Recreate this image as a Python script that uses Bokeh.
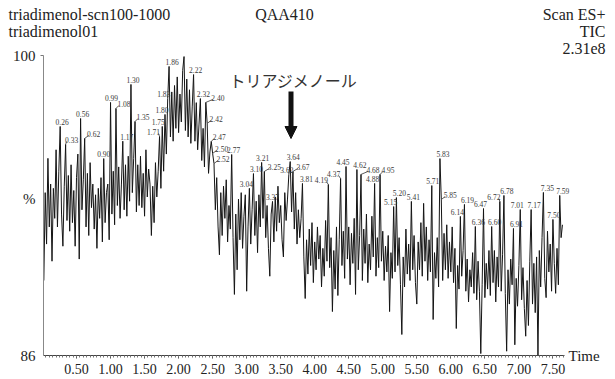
import numpy as np
from bokeh.plotting import figure
from bokeh.layouts import column
from bokeh.models import (Range1d, FixedTicker, PrintfTickFormatter, Label, Title,
                          LinearAxis, Arrow, NormalHead, ColumnDataSource)
from bokeh.core.properties import value
from bokeh.embed import file_html
from bokeh.resources import INLINE

# ---------------- data ----------------
scan_start = 0.02     # min
scan_step = 0.02      # min per scan
tic_pct = [
    89.5, 93.6, 91.2, 95.2, 92.0, 94.0, 90.4, 93.8, 92.4, 95.6,      # 0.02
    92.0, 94.6, 96.69, 92.6, 91.1, 93.9, 95.85, 92.3, 94.4, 91.8,    # 0.22
    94.9, 92.2, 93.7, 91.1, 94.3, 95.4, 90.5, 97.06, 92.8, 94.2,     # 0.42
    96.13, 92.0, 94.5, 91.6, 95.0, 92.9, 94.0, 91.9, 93.5, 91.0,     # 0.62
    93.8, 92.4, 94.3, 91.3, 95.19, 92.2, 93.6, 94.0, 91.4, 97.81,    # 0.82
    92.6, 94.6, 92.1, 97.53, 93.0, 94.8, 92.4, 94.0, 96.0, 92.8,     # 1.02
    94.9, 92.5, 95.3, 93.2, 98.65, 93.6, 95.2, 96.92, 92.7, 94.9,    # 1.22
    93.0, 95.3, 92.9, 94.5, 92.5, 95.6, 93.4, 94.7, 94.0, 91.6,      # 1.42
    93.9, 92.2, 95.0, 93.4, 94.6, 96.22, 93.8, 96.69, 94.6, 97.25,   # 1.62
    95.4, 97.99, 99.49, 96.2, 98.3, 96.0, 98.6, 96.6, 99.0, 96.4,    # 1.82
    98.2, 96.9, 99.3, 99.95, 96.5, 98.9, 96.2, 98.4, 95.9, 97.6,     # 2.02
    99.11, 96.0, 97.8, 95.6, 96.8, 97.99, 95.1, 96.6, 94.8, 97.81,   # 2.22
    96.83, 94.5, 95.5, 95.99, 95.43, 94.96, 92.8, 94.3, 92.0, 90.7,  # 2.42
    93.6, 91.6, 93.9, 92.4, 94.2, 91.3, 93.0, 91.9, 95.38, 91.5,     # 2.62
    88.85, 92.6, 90.0, 93.3, 91.4, 93.6, 91.0, 92.5, 93.5, 89.0,     # 2.82
    92.0, 93.8, 91.2, 92.8, 94.49, 91.6, 93.2, 90.8, 93.5, 92.0,     # 3.02
    95.01, 92.4, 94.59, 91.5, 93.0, 91.0, 89.7, 92.6, 93.19, 91.3,   # 3.22
    93.4, 91.8, 93.9, 92.2, 93.0, 91.4, 90.6, 93.6, 92.3, 93.3,      # 3.42
    94.45, 95.05, 92.7, 94.59, 91.9, 93.6, 91.2, 92.8, 91.5, 92.4,   # 3.62
    94.03, 90.6, 88.66, 91.4, 89.8, 91.9, 90.2, 92.2, 89.4, 91.3,    # 3.82
    90.0, 92.0, 90.5, 91.6, 89.2, 91.0, 89.7, 92.3, 90.4, 93.98,     # 4.02
    90.1, 91.5, 88.05, 90.9, 89.1, 92.0, 88.8, 91.4, 94.26, 90.2,    # 4.22
    91.8, 89.6, 94.82, 90.5, 92.0, 89.3, 91.7, 90.3, 92.4, 88.85,    # 4.42
    94.68, 90.0, 91.6, 94.45, 89.5, 91.9, 90.3, 92.6, 89.4, 91.2,    # 4.62
    90.0, 92.5, 90.6, 94.03, 89.7, 91.5, 90.1, 94.45, 90.4, 91.8,    # 4.82
    89.5, 91.1, 89.9, 91.6, 88.05, 90.8, 89.6, 92.95, 89.9, 93.37,   # 5.02
    90.2, 91.5, 89.3, 86.98, 90.6, 89.2, 91.9, 89.8, 91.2, 89.5,     # 5.22
    93.19, 90.0, 91.6, 89.4, 88.4, 91.3, 90.0, 92.2, 89.7, 93.1,     # 5.42
    90.4, 92.0, 89.5, 91.4, 89.9, 93.93, 87.68, 90.8, 89.6, 91.5,    # 5.62
    89.2, 95.19, 93.28, 89.5, 91.7, 90.0, 92.1, 89.6, 91.3, 89.9,    # 5.82
    92.0, 89.4, 91.0, 87.26, 90.2, 89.1, 92.49, 89.7, 90.9, 93.05,   # 6.02
    89.0, 90.5, 88.5, 90.0, 89.2, 90.8, 88.9, 92.02, 88.6, 90.4,     # 6.22
    89.0, 86.09, 89.3, 92.86, 88.7, 90.3, 89.1, 90.9, 88.8, 92.02,   # 6.42
    89.4, 90.9, 88.5, 90.6, 89.2, 93.19, 89.0, 90.7, 93.47, 88.9,    # 6.62
    86.2, 90.0, 88.4, 90.5, 89.3, 91.93, 86.5, 89.6, 88.3, 90.2,     # 6.82
    92.81, 88.6, 90.1, 88.2, 86.9, 89.5, 87.4, 90.4, 92.81, 88.4,    # 7.02
    90.3, 88.0, 90.6, 86.0, 90.9, 89.2, 91.5, 93.61, 89.6, 88.7,     # 7.22
    91.8, 89.9, 91.2, 89.0, 92.35, 90.3, 88.9, 91.0, 89.3, 93.47,    # 7.42
    91.5, 92.1,                                                      # 7.62
]

peak_times = [0.26, 0.33, 0.56, 0.62, 0.90, 0.99, 1.08, 1.17, 1.30, 1.35,
              1.71, 1.75, 1.80, 1.83, 1.86, 2.08, 2.22, 2.32, 2.40, 2.42,
              2.47, 2.50, 2.52, 2.77, 3.04, 3.10, 3.21, 3.25, 3.37, 3.62,
              3.64, 3.67, 3.81, 4.19, 4.37, 4.45, 4.62, 4.68, 4.88, 4.95,
              5.15, 5.20, 5.41, 5.71, 5.83, 5.85, 6.14, 6.19, 6.36, 6.47,
              6.60, 6.72, 6.78, 6.91, 7.01, 7.17, 7.35, 7.50, 7.59]

x_tick_values = [0.5, 1.0, 1.5, 2.0, 2.5, 3.0, 3.5, 4.0, 4.5, 5.0, 5.5, 6.0, 6.5, 7.0, 7.5]
y_tick_values = [86, 100]
y_unit_label = "%"
x_unit_label = "Time"

header_left = ["triadimenol-scn100-1000", "triadimenol01"]
header_center = "QAA410"
header_right = ["Scan ES+", "TIC"]
intensity_label = "2.31e8"
compound_name = "トリアジメノール"

# ---------------- styling (label pixel offsets) ----------------
label_dx = [2, 6, 2, 9, 0, 1, 8, 4, 2, 8,
            -6, -4, -3, -4, 3, 2, 2, 3, 12, 9,
            8, 9, 9, 2, -3, 3, 1, 10, 0, -2,
            3, 10, 4, -7, -7, -3, 3, 12, -2, 8,
            -3, 3, 2, 1, 3, 9, -3, 3, 3, -3,
            3, -6, 3, 3, -3, 3, 4, 1, 3]

SERIF = "Liberation Serif"
W = 615
HDR_H = 41
FRAME_L, FRAME_T = 43, 54
AXIS_END_T = 7.67          # time at which the drawn time axis stops (x = 564 px)
X0 = 0.015
PPX = 521 / (AXIS_END_T - X0)
FRAME_W, FRAME_H = 532, 300
X1 = X0 + FRAME_W / PPX
Y0, Y1 = 86, 100
PPY = FRAME_H / (Y1 - Y0)
TXT = "#222222"

tic = np.array(tic_pct)
times = scan_start + scan_step * np.arange(len(tic))

pk_t = np.array(peak_times)
pk_idx = np.floor((pk_t - scan_start) / scan_step + 0.5 + 1e-6).astype(int)
pk_x = times[pk_idx]
pk_y = tic[pk_idx]

# ---------------- header strip ----------------
hdr = figure(width=W, height=HDR_H, x_range=Range1d(0, W), y_range=Range1d(HDR_H, 0),
             x_axis_type=None, y_axis_type=None, min_border=0,
             output_backend="svg", toolbar_location=None)
hdr.outline_line_color = None
hdr.grid.visible = False
hdr.text(x=[8, 8], y=[14, 31], text=header_left, text_align="left",
         text_baseline="middle", text_font=value(SERIF), text_font_size="16px",
         text_color=TXT)
hdr.text(x=[284], y=[14], text=[header_center], text_align="center",
         text_baseline="middle", text_font=value(SERIF), text_font_size="16px",
         text_color=TXT)
hdr.text(x=[605, 605], y=[14, 31], text=header_right, text_align="right",
         text_baseline="middle", text_font=value(SERIF), text_font_size="16px",
         text_color=TXT)

# ---------------- main chromatogram ----------------
p = figure(frame_width=FRAME_W, frame_height=FRAME_H,
           x_range=Range1d(X0, X1), y_range=Range1d(Y0, Y1),
           min_border_left=FRAME_L, min_border_right=W - FRAME_L - FRAME_W,
           min_border_top=FRAME_T - HDR_H, min_border_bottom=25,
           output_backend="svg", toolbar_location=None)
p.title.visible = False
p.outline_line_color = None
p.xgrid.visible = False
p.ygrid.visible = False

for fig in (hdr, p):
    try:
        fig.frame_align = False
    except Exception:
        pass

p.add_layout(Title(text=intensity_label, align="right", offset=-30, standoff=1,
                   vertical_align="middle", text_font=SERIF, text_font_size="16px",
                   text_font_style="normal", text_color=TXT), "above")

# trace
p.line(times, tic, line_color="#151515", line_width=1)

# peak labels
src = ColumnDataSource(dict(x=pk_x, y=pk_y, text=["%.2f" % t for t in peak_times],
                            dx=label_dx))
p.text(x="x", y="y", text="text", x_offset="dx", y_offset=-1.5, source=src,
       text_align="center", text_baseline="bottom",
       text_font=value(SERIF), text_font_size="7.5px", text_color="#3a3a3a")

# leader lines for displaced labels
lx0, ly0, lx1, ly1 = [], [], [], []
for xx, yy, d in zip(pk_x, pk_y, label_dx):
    if abs(d) >= 5:
        s = 1 if d > 0 else -1
        lx0.append(xx); ly0.append(yy)
        lx1.append(xx + (d - s * 5) / PPX); ly1.append(yy + 3 / PPY)
p.segment(lx0, ly0, lx1, ly1, line_color="#333333", line_width=0.8)

# x axis (drawn only up to AXIS_END_T)
p.xaxis.bounds = (X0, AXIS_END_T)
p.xaxis.ticker = FixedTicker(ticks=x_tick_values,
                             minor_ticks=list(np.round(np.arange(0.05, 7.66, 0.05), 2)))
p.xaxis.formatter = PrintfTickFormatter(format="%.2f")
p.xaxis.major_label_text_font = SERIF
p.xaxis.major_label_text_font_size = "14px"
p.xaxis.major_label_text_color = TXT
p.xaxis.major_label_standoff = 5
p.xaxis.major_tick_in = 0
p.xaxis.major_tick_out = 3
p.xaxis.minor_tick_in = 0
p.xaxis.minor_tick_out = 2
p.xaxis.axis_line_color = "#444444"
p.xaxis.major_tick_line_color = "#444444"
p.xaxis.minor_tick_line_color = "#777777"

# y axis: 86, %, 100
pct_level = Y1 - (197 - FRAME_T) / PPY
p.yaxis.ticker = FixedTicker(ticks=[y_tick_values[0], pct_level, y_tick_values[1]],
                             minor_ticks=[y_tick_values[1]])
p.yaxis.major_label_overrides = {y_tick_values[0]: "86", pct_level: y_unit_label,
                                 y_tick_values[1]: "100"}
p.yaxis.major_label_text_font = SERIF
p.yaxis.major_label_text_font_size = "15px"
p.yaxis.major_label_text_color = TXT
p.yaxis.major_label_standoff = 5
p.yaxis.major_tick_in = 0
p.yaxis.major_tick_out = 3
p.yaxis.major_tick_line_color = None
p.yaxis.minor_tick_in = 0
p.yaxis.minor_tick_out = 3
p.yaxis.minor_tick_line_color = "#777777"
p.yaxis.axis_line_color = "#888888"

# "Time" at the right end of the time axis
time_axis = LinearAxis(ticker=FixedTicker(ticks=[Y0]),
                       major_label_overrides={Y0: x_unit_label},
                       axis_line_color=None, major_tick_line_color=None,
                       minor_tick_line_color=None, major_tick_in=0, major_tick_out=0,
                       major_label_standoff=-7, major_label_text_font=SERIF,
                       major_label_text_font_size="15px", major_label_text_color=TXT)
p.add_layout(time_axis, "right")


def px_to_t(X):
    return X0 + (X - FRAME_L) / PPX


def py_to_v(Y):
    return Y1 - (Y - FRAME_T) / PPY


p.add_layout(Label(x=px_to_t(293), y=py_to_v(78), text=compound_name,
                   text_align="center", text_baseline="middle",
                   text_font="Noto Sans CJK JP", text_font_size="16px",
                   text_color="#333333"))

p.add_layout(Arrow(end=NormalHead(size=12, fill_color="#111111", line_color="#111111"),
                   x_start=px_to_t(290.5), y_start=py_to_v(90),
                   x_end=px_to_t(290.5), y_end=py_to_v(137),
                   line_width=5, line_color="#111111"))

layout = column(hdr, p, spacing=0)
open("out.html", "w").write(file_html(layout, INLINE))
